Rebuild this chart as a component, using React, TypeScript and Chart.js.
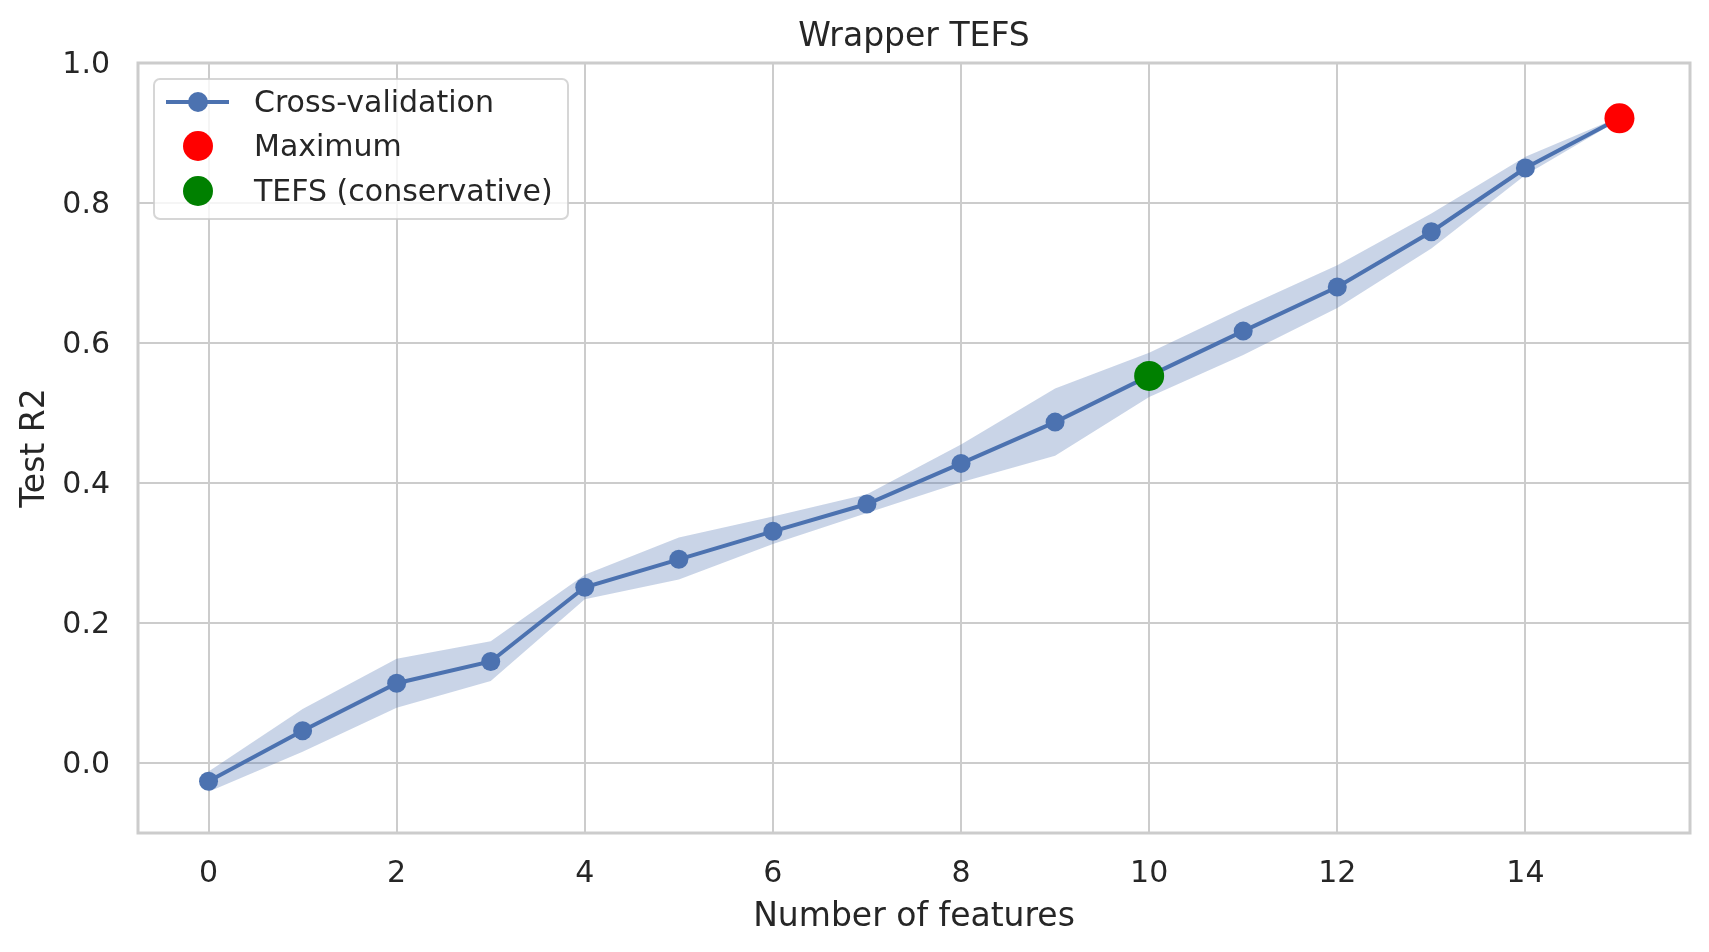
import React, { useEffect, useRef } from "react";
import { Chart, registerables } from "chart.js";

Chart.register(...registerables);

// ---- data ----
const features = [0, 1, 2, 3, 4, 5, 6, 7, 8, 9, 10, 11, 12, 13, 14, 15];
const cvMean = [-0.026, 0.046, 0.114, 0.145, 0.251, 0.291, 0.331, 0.370, 0.428, 0.487, 0.553, 0.617, 0.680, 0.759, 0.850, 0.921];
const cvUpper = [-0.012, 0.077, 0.149, 0.174, 0.269, 0.322, 0.352, 0.384, 0.455, 0.535, 0.586, 0.650, 0.711, 0.785, 0.866, 0.923];
const cvLower = [-0.041, 0.016, 0.079, 0.117, 0.234, 0.262, 0.313, 0.357, 0.401, 0.439, 0.523, 0.583, 0.650, 0.735, 0.840, 0.919];
const maxPoint = { x: 15, y: 0.921 };
const tefsPoint = { x: 10, y: 0.553 };
const xTicks = [0, 2, 4, 6, 8, 10, 12, 14];
const yTicks = [0.0, 0.2, 0.4, 0.6, 0.8, 1.0];

const TITLE = "Wrapper TEFS";
const X_LABEL = "Number of features";
const Y_LABEL = "Test R2";
const LEGEND_LABELS = ["Cross-validation", "Maximum", "TEFS (conservative)"];

const FONT = "'DejaVu Sans', sans-serif";
const TEXT = "#262626";
const GRID = "#cccccc";
const BLUE = "#4c72b0";
const BAND = "rgba(76,114,176,0.3)";

const decorPlugin = {
  id: "decor",
  beforeDraw(chart: any) {
    const ctx = chart.ctx;
    ctx.save();
    ctx.fillStyle = "#ffffff";
    ctx.fillRect(0, 0, chart.width, chart.height);
    ctx.restore();
  },
  afterDatasetsDraw(chart: any) {
    const { ctx, chartArea } = chart;
    ctx.save();
    ctx.strokeStyle = GRID;
    ctx.lineWidth = 3;
    ctx.strokeRect(chartArea.left, chartArea.top, chartArea.right - chartArea.left, chartArea.bottom - chartArea.top);
    ctx.restore();
  },
  afterDraw(chart: any) {
    const { ctx, chartArea } = chart;
    const cx = (chartArea.left + chartArea.right) / 2;
    ctx.save();
    ctx.fillStyle = TEXT;
    // title
    ctx.font = `33px ${FONT}`;
    ctx.textAlign = "center";
    ctx.textBaseline = "alphabetic";
    ctx.fillText(TITLE, cx, 46);
    // x label
    ctx.textBaseline = "middle";
    ctx.fillText(X_LABEL, cx, 917);
    // y label
    ctx.save();
    ctx.translate(35, (chartArea.top + chartArea.bottom) / 2);
    ctx.rotate(-Math.PI / 2);
    ctx.fillText(Y_LABEL, 0, 0);
    ctx.restore();

    // legend
    const bx = 154, by = 79, bw = 414, bh = 140, r = 6;
    ctx.beginPath();
    ctx.moveTo(bx + r, by);
    ctx.lineTo(bx + bw - r, by);
    ctx.arcTo(bx + bw, by, bx + bw, by + r, r);
    ctx.lineTo(bx + bw, by + bh - r);
    ctx.arcTo(bx + bw, by + bh, bx + bw - r, by + bh, r);
    ctx.lineTo(bx + r, by + bh);
    ctx.arcTo(bx, by + bh, bx, by + bh - r, r);
    ctx.lineTo(bx, by + r);
    ctx.arcTo(bx, by, bx + r, by, r);
    ctx.closePath();
    ctx.fillStyle = "rgba(255,255,255,0.8)";
    ctx.fill();
    ctx.strokeStyle = "rgba(204,204,204,0.8)";
    ctx.lineWidth = 2;
    ctx.stroke();

    const rows = [102, 146, 191];
    const hx = 198;
    // row 1: line + marker
    ctx.strokeStyle = BLUE;
    ctx.lineWidth = 4;
    ctx.beginPath();
    ctx.moveTo(166, rows[0]);
    ctx.lineTo(229, rows[0]);
    ctx.stroke();
    ctx.fillStyle = BLUE;
    ctx.beginPath();
    ctx.arc(hx, rows[0], 10, 0, Math.PI * 2);
    ctx.fill();
    // row 2: red
    ctx.fillStyle = "#ff0000";
    ctx.beginPath();
    ctx.arc(hx, rows[1], 15, 0, Math.PI * 2);
    ctx.fill();
    // row 3: green
    ctx.fillStyle = "#008000";
    ctx.beginPath();
    ctx.arc(hx, rows[2], 15, 0, Math.PI * 2);
    ctx.fill();

    ctx.fillStyle = TEXT;
    ctx.font = `30px ${FONT}`;
    ctx.textAlign = "left";
    ctx.textBaseline = "middle";
    LEGEND_LABELS.forEach((t, i) => ctx.fillText(t, 254, rows[i] + 2));
    ctx.restore();
  },
};

export default function App() {
  const ref = useRef<HTMLCanvasElement | null>(null);
  useEffect(() => {
    document.body.style.margin = "0";
    const canvas = ref.current!;
    const chart = new Chart(canvas, {
      type: "line",
      data: {
        datasets: [
          {
            label: LEGEND_LABELS[1],
            data: [maxPoint],
            showLine: false,
            pointRadius: 15,
            pointBackgroundColor: "#ff0000",
            pointBorderWidth: 0,
            borderColor: "rgba(0,0,0,0)",
          },
          {
            label: LEGEND_LABELS[2],
            data: [tefsPoint],
            showLine: false,
            pointRadius: 15,
            pointBackgroundColor: "#008000",
            pointBorderWidth: 0,
            borderColor: "rgba(0,0,0,0)",
          },
          {
            label: LEGEND_LABELS[0],
            data: features.map((f, i) => ({ x: f, y: cvMean[i] })),
            borderColor: BLUE,
            borderWidth: 4,
            pointRadius: 9.5,
            pointBackgroundColor: BLUE,
            pointBorderWidth: 0,
            tension: 0,
            fill: false,
          },
          {
            label: "upper",
            data: features.map((f, i) => ({ x: f, y: cvUpper[i] })),
            borderColor: "rgba(0,0,0,0)",
            borderWidth: 0,
            pointRadius: 0,
            backgroundColor: BAND,
            fill: "+1",
            tension: 0,
          },
          {
            label: "lower",
            data: features.map((f, i) => ({ x: f, y: cvLower[i] })),
            borderColor: "rgba(0,0,0,0)",
            borderWidth: 0,
            pointRadius: 0,
            fill: false,
            tension: 0,
          },
        ],
      },
      options: {
        animation: false,
        responsive: false,
        devicePixelRatio: 1,
        events: [],
        layout: { padding: { top: 63, right: 19, bottom: 0, left: 0 } },
        plugins: {
          legend: { display: false },
          title: { display: false },
          tooltip: { enabled: false },
        },
        scales: {
          x: {
            type: "linear",
            min: -0.75,
            max: 15.75,
            border: { display: false },
            grid: { color: GRID, lineWidth: 2, drawTicks: false },
            ticks: {
              color: TEXT,
              font: { family: FONT, size: 30 },
              padding: 23,
              maxRotation: 0,
              callback: (v: any) => String(v),
            },
            afterBuildTicks: (s: any) => {
              s.ticks = xTicks.map((v) => ({ value: v }));
            },
            afterFit: (s: any) => {
              s.height = 119;
            },
          },
          y: {
            type: "linear",
            min: -0.1,
            max: 1.0,
            border: { display: false },
            grid: { color: GRID, lineWidth: 2, drawTicks: false },
            ticks: {
              color: TEXT,
              font: { family: FONT, size: 30 },
              padding: 28,
              labelOffset: 2,
              callback: (v: any) => Number(v).toFixed(1),
            },
            afterBuildTicks: (s: any) => {
              s.ticks = yTicks.map((v) => ({ value: v }));
            },
            afterFit: (s: any) => {
              s.width = 138;
            },
          },
        },
      },
      plugins: [decorPlugin],
    } as any);
    return () => chart.destroy();
  }, []);
  return (
    <div style={{ width: 1709, height: 952 }}>
      <canvas ref={ref} width={1709} height={952} style={{ display: "block" }} />
    </div>
  );
}
